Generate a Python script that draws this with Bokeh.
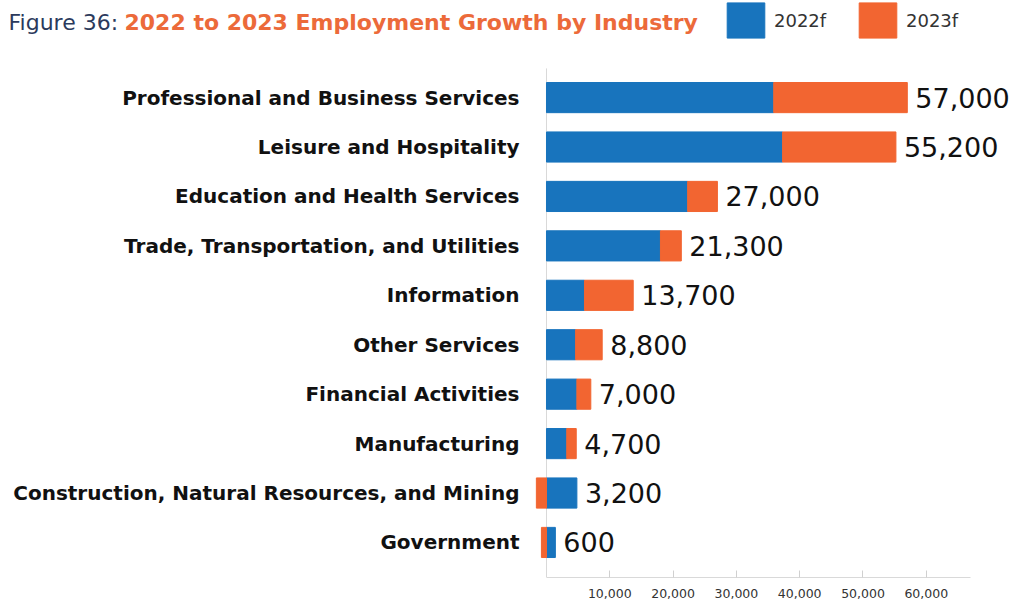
from bokeh.plotting import figure
from bokeh.models import (ColumnDataSource, Range1d, Label, Legend, LegendItem,
                          FixedTicker, NumeralTickFormatter)
from bokeh.core.properties import value
from bokeh.embed import file_html
from bokeh.resources import INLINE

industries = ["Professional and Business Services", "Leisure and Hospitality",
              "Education and Health Services", "Trade, Transportation, and Utilities",
              "Information", "Other Services", "Financial Activities", "Manufacturing",
              "Construction, Natural Resources, and Mining", "Government"]
growth_2022 = [35900, 37300, 22300, 18000, 6000, 4600, 4800, 3200, 4800, 1400]
growth_2023 = [21100, 17900, 4700, 3300, 7700, 4200, 2200, 1500, -1600, -800]
x_ticks = [10000, 20000, 30000, 40000, 50000, 60000]

BLUE = "#1874bd"
ORANGE = "#f26531"
FONT = "DejaVu Sans"

n = len(industries)
pos = [n - 1 - i for i in range(n)]  # top row first
totals = [a + b for a, b in zip(growth_2022, growth_2023)]
o_left = [a if b > 0 else 0 for a, b in zip(growth_2022, growth_2023)]
o_right = [a + b if b > 0 else b for a, b in zip(growth_2022, growth_2023)]
bar_end = [max(a, a + b) for a, b in zip(growth_2022, growth_2023)]
labels = [f"{t:,}" for t in totals]

src = ColumnDataSource(dict(ind=industries, pos=pos, zero=[0] * n, b=growth_2022,
                            ol=o_left, orr=o_right, end=bar_end, lab=labels))

p = figure(width=1014, height=607, output_backend="svg", toolbar_location=None,
           x_range=Range1d(-86256, 73934), y_range=Range1d(-0.709, 10.964),
           y_axis_location=None,
           min_border_left=0, min_border_right=0, min_border_top=0, min_border_bottom=30)
p.outline_line_color = None
p.grid.grid_line_color = None

# zero line
p.segment(x0=[0], x1=[0], y0=[-0.709], y1=[9.59], line_color="#d9d9d9", line_width=1)

r1 = p.hbar(y="pos", left="zero", right="b", height=0.61, color=BLUE, source=src)
r2 = p.hbar(y="pos", left="ol", right="orr", height=0.61, color=ORANGE, source=src)

# category labels
p.text(x="zero", y="pos", text="ind", source=src, x_offset=-27, text_align="right",
       text_baseline="middle", text_font=value(FONT), text_font_style="bold",
       text_font_size="20px", text_color="#111111")

# value labels
p.text(x="end", y="pos", text="lab", source=src, x_offset=8, text_align="left",
       text_baseline="middle", text_font=value(FONT), text_font_size="27px",
       text_color="#111111")

xa = p.xaxis[0]
xa.ticker = FixedTicker(ticks=x_ticks)
xa.formatter = NumeralTickFormatter(format="0,0")
xa.bounds = (0, 67000)
xa.axis_line_color = "#d9d9d9"
xa.major_tick_line_color = "#d0d0d0"
xa.major_tick_in = 7
xa.major_tick_out = 0
xa.minor_tick_line_color = None
xa.major_label_text_font = FONT
xa.major_label_text_font_size = "12.5px"
xa.major_label_text_color = "#333333"
xa.major_label_standoff = 11

p.add_layout(Label(x=8, y=555, x_units="screen", y_units="screen", text="Figure 36:",
                   text_font=FONT, text_font_size="22px", text_color="#2b3a5c",
                   text_baseline="alphabetic"))
p.add_layout(Label(x=124, y=555, x_units="screen", y_units="screen",
                   text="2022 to 2023 Employment Growth by Industry",
                   text_font=FONT, text_font_size="22px", text_font_style="bold",
                   text_color="#ec6a3a", text_baseline="alphabetic"))

legend = Legend(items=[LegendItem(label="2022f", renderers=[r1]),
                       LegendItem(label="2023f", renderers=[r2])],
                location=(722, 535), orientation="horizontal",
                glyph_width=47, glyph_height=44, label_standoff=5, label_width=80,
                spacing=0, padding=0, margin=0, border_line_color=None,
                background_fill_alpha=0, label_text_font=FONT,
                label_text_font_size="18px", label_text_color="#333333")
p.add_layout(legend)

open("out.html", "w").write(file_html(p, INLINE))
